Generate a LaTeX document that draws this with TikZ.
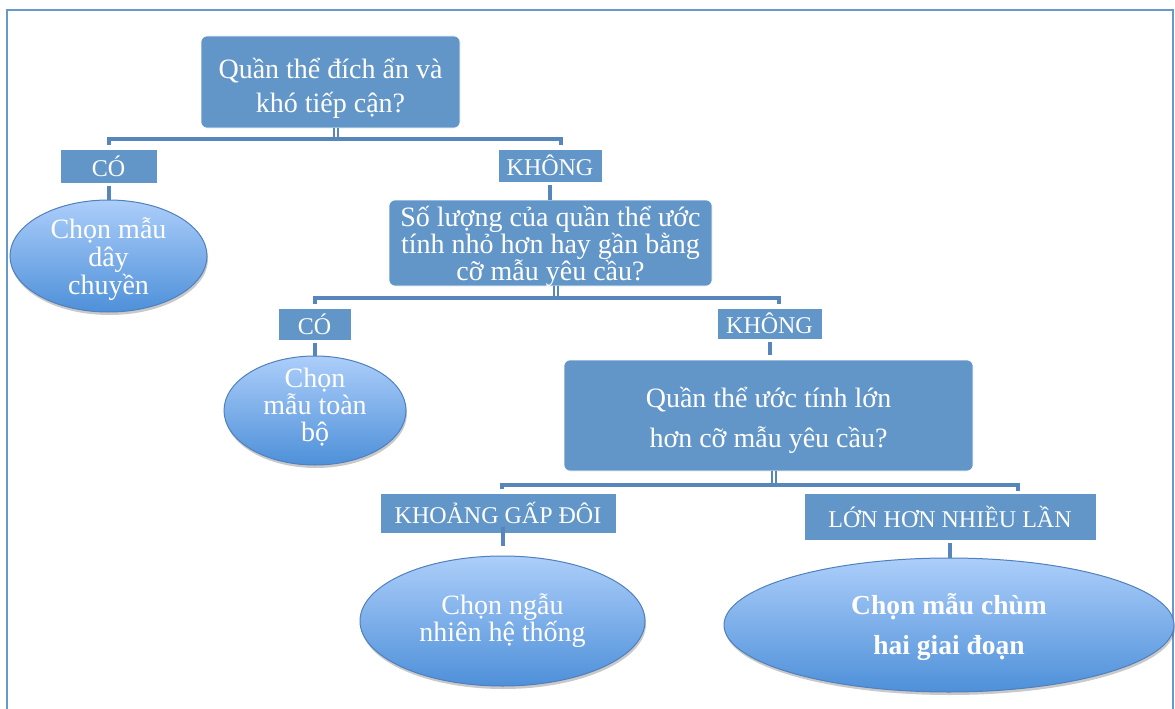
\documentclass[tikz,border=0pt]{standalone}
\usepackage{fontspec}
\setmainfont{Liberation Serif}
\usetikzlibrary{shapes.geometric,shadows}
\definecolor{boxblue}{RGB}{98,150,200}
\definecolor{barblue}{RGB}{86,134,188}
\definecolor{ovaltop}{RGB}{172,206,250}
\definecolor{ovalbot}{RGB}{78,144,217}
\definecolor{ovalline}{RGB}{80,128,190}
\definecolor{frameblue}{RGB}{102,153,204}
\tikzset{
  question/.style={draw=white, line width=0.6pt, fill=boxblue, rounded corners=6pt, inner sep=0pt},
  answer/.style={draw=white, line width=0.6pt, fill=boxblue, text=white, inner sep=0pt,
    font=\fontsize{24}{28}\selectfont},
  method/.style={ellipse, draw=ovalline, line width=1pt, top color=ovaltop,
    bottom color=ovalbot, inner sep=0pt,
    drop shadow={shadow xshift=1pt, shadow yshift=-3pt, opacity=0.3, fill=black!70}},
  inside/.style={text=white, align=center, inner sep=0pt, fill=none, draw=none},
  bar/.style={draw=barblue, line width=4pt},
  stub/.style={draw=barblue, line width=2pt, double=white, double distance=2pt}
}
\begin{document}
\begin{tikzpicture}[x=1pt,y=-1pt]
  \useasboundingbox (0,0) rectangle (1175,709);
  \draw[frameblue, line width=2.5pt] (7,730) -- (7,10) -- (1173,10) -- (1173,730);

  % questions
  \node[question, minimum width=259pt, minimum height=92pt,
    label={[inside, yshift=-6pt, font=\fontsize{28}{34}\selectfont]center:{Quần thể đích ẩn và\\khó tiếp cận?}}]
    (q1) at (330.5,82) {};
  \node[question, minimum width=323pt, minimum height=86pt,
    label={[inside, yshift=-3pt, font=\fontsize{28}{27}\selectfont]center:{Số lượng của quần thể ước\\tính nhỏ hơn hay gần bằng\\cỡ mẫu yêu cầu?}}]
    (q2) at (550.5,243) {};
  \node[question, minimum width=409pt, minimum height=111pt,
    label={[inside, yshift=-5pt, font=\fontsize{28}{40}\selectfont]center:{Quần thể ước tính lớn\\hơn cỡ mẫu yêu cầu?}}]
    (q3) at (768.5,415.5) {};

  % answers
  \node[answer, minimum width=97pt, minimum height=34pt] (co1) at (108.5,166) {CÓ};
  \node[answer, minimum width=104pt, minimum height=33pt] (khong1) at (550,165.5) {KHÔNG};
  \node[answer, minimum width=73pt, minimum height=32pt] (co2) at (314.5,324) {CÓ};
  \node[answer, minimum width=105pt, minimum height=31pt] (khong2) at (769.5,323.5) {KHÔNG};
  \node[answer, minimum width=236pt, minimum height=40pt] (gapdoi) at (498,513) {KHOẢNG GẤP ĐÔI};
  \node[answer, minimum width=292pt, minimum height=47pt] (nhieulan) at (950,516.5) {LỚN HƠN NHIỀU LẦN};

  % methods
  \node[method, minimum width=197pt, minimum height=112pt,
    label={[inside, yshift=-3.5pt, font=\fontsize{28}{28}\selectfont]center:{Chọn mẫu\\dây\\chuyền}}]
    (dayc) at (108.5,256) {};
  \node[method, minimum width=182pt, minimum height=109pt,
    label={[inside, yshift=3pt, font=\fontsize{28}{27}\selectfont]center:{Chọn\\mẫu toàn\\bộ}}]
    (toanbo) at (315,410.5) {};
  \node[method, minimum width=285pt, minimum height=130pt,
    label={[inside, font=\fontsize{28}{27}\selectfont]center:{Chọn ngẫu\\nhiên hệ thống}}]
    (hethong) at (502.5,621) {};
  \node[method, minimum width=450pt, minimum height=134pt,
    label={[inside, yshift=-2pt, font=\bfseries\fontsize{27.5}{40}\selectfont]center:{Chọn mẫu chùm\\hai giai đoạn}}]
    (chum) at (949,625) {};

  % brackets
  \coordinate (r1) at (561,145);
  \coordinate (r2) at (779,304);
  \coordinate (r3) at (1018,491);
  \draw[bar] ([yshift=4pt]co1.north) |- ([yshift=-11pt]q1.south) -| (r1);
  \draw[bar] ([yshift=4pt]co2.north) |- ([yshift=-12pt]q2.south) -| (r2);
  \draw[bar] ([xshift=4pt,yshift=4pt]gapdoi.north) |- ([yshift=-14pt]q3.south) -| (r3);
  \draw[stub] ([xshift=5pt]q1.south) -- ++(0,9);
  \draw[stub] ([xshift=5pt]q2.south) -- ++(0,10);
  \draw[stub] ([xshift=5pt]q3.south) -- ++(0,12);

  % links
  \draw[bar] ([yshift=-3pt]co1.south) -- (co1.south |- dayc.north);
  \draw[bar] ([yshift=-3pt]khong1.south) -- (khong1.south |- q2.north);
  \draw[bar] ([yshift=-3pt]co2.south) -- (co2.south |- toanbo.north);
  \draw[bar] ([yshift=-3pt]khong2.south) -- ([yshift=5pt]khong2.south |- q3.north);
  \draw[bar] ([yshift=6pt]hethong.north |- gapdoi.south) -- ([yshift=10pt]hethong.north);
  \draw[bar] ([yshift=-3pt]nhieulan.south) -- (nhieulan.south |- chum.north);
\end{tikzpicture}
\end{document}
